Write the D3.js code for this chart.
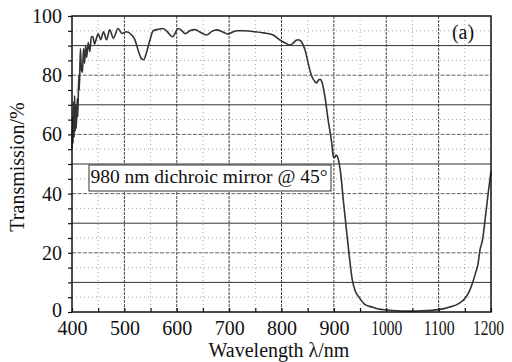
<!DOCTYPE html>
<html>
<head>
<meta charset="utf-8">
<script src="https://cdn.jsdelivr.net/npm/d3@7"></script>
<style>
  body { margin: 0; background: #fff; }
  svg { display: block; }
</style>
</head>
<body>
<svg id="chart" width="512" height="362"></svg>
<script>
// Measured transmission spectrum of the dichroic mirror at 45° incidence
const wavelength = [
  400, 401, 402, 403, 404, 405, 406, 407, 408, 410, 411, 413, 414, 416, 418, 420,
  422, 424, 426, 428, 431, 434, 437, 440, 443, 446, 450, 455, 460, 466, 472, 479,
  488, 495, 504, 514, 520, 527, 533, 537, 542, 549, 555, 565, 574, 583, 592, 603,
  610, 616, 625, 635, 645, 657, 667, 676, 688, 698, 706, 714, 730, 749, 766, 784,
  797, 808, 816, 822, 828, 832, 838, 845, 851, 857, 864, 867, 871, 874, 877, 883,
  889, 896, 899, 902, 904, 906, 908, 913, 918, 924, 930, 935, 941, 948, 959, 974,
  985, 1000, 1020, 1040, 1070, 1100, 1120, 1139, 1152, 1158, 1165, 1171, 1175,
  1179, 1184, 1188, 1194.5, 1200
];
const transmission = [
  55, 66, 57, 71, 59, 73, 61, 70, 62, 72, 66, 80, 75, 89, 82, 81,
  89, 84, 90, 86, 91, 88, 93, 93, 90.5, 92, 94, 92, 94.7, 92, 95.3, 92.5,
  95.8, 94.1, 94.7, 93.6, 92, 88, 85.5, 85.2, 87.5, 92, 95, 95.5, 95.8, 94.5, 93, 95.8,
  95, 94, 95, 95.4, 94.5, 93.6, 94.8, 95.3, 94.6, 93.9, 94.5, 95, 95, 94.7, 94.3, 93.6,
  91.9, 90.8, 90.2, 90.8, 91.8, 92, 91.3, 88.5, 84, 80, 77.8, 77.4, 78.4, 78.6, 77.8, 72.7,
  64.9, 57, 52.5, 52.2, 53, 52.8, 51.9, 46.8, 37.8, 27.7, 18, 11, 7, 5, 2.6, 1.6,
  1.0, 0.7, 0.4, 0.3, 0.4, 0.8, 1.6, 2.9, 5, 6.8, 10, 13.5, 16,
  21, 24.5, 30, 40, 47.5
];

const xTicks = [400, 500, 600, 700, 800, 900, 1000, 1100, 1200];
const yTicks = [0, 20, 40, 60, 80, 100];
const xTitle = "Wavelength λ/nm";
const yTitle = "Transmission/%";
const legendText = "980 nm dichroic mirror @ 45°";
const panelLabel = "(a)";

const FONT = '"Liberation Serif"';

const svg = d3.select("#chart");
const plot = { left: 72, right: 491, top: 16, bottom: 312 };

const x = d3.scaleLinear().domain([400, 1200]).range([plot.left, plot.right]);
const y = d3.scaleLinear().domain([0, 100]).range([plot.bottom, plot.top]);

// Grid: light dotted half-steps, darker lines on the main steps
const grid = svg.append("g");
const xMinor = d3.range(450, 1200, 100);
const xMajor = d3.range(500, 1200, 100);
const yMinor = d3.range(5, 100, 10);
const yMajor = d3.range(10, 100, 10);

grid.selectAll(".xminor").data(xMinor).join("line")
  .attr("x1", d => x(d)).attr("x2", d => x(d))
  .attr("y1", plot.top).attr("y2", plot.bottom)
  .attr("stroke", "#9a9a9a").attr("stroke-width", 0.9).attr("stroke-dasharray", "1,3");
grid.selectAll(".yminor").data(yMinor).join("line")
  .attr("x1", plot.left).attr("x2", plot.right)
  .attr("y1", d => y(d)).attr("y2", d => y(d))
  .attr("stroke", "#9a9a9a").attr("stroke-width", 0.9).attr("stroke-dasharray", "1,3");
grid.selectAll(".xmajor").data(xMajor).join("line")
  .attr("x1", d => x(d)).attr("x2", d => x(d))
  .attr("y1", plot.top).attr("y2", plot.bottom)
  .attr("stroke", "#444").attr("stroke-width", 1).attr("stroke-dasharray", "3,1");
grid.selectAll(".ymajor").data(yMajor).join("line")
  .attr("x1", plot.left).attr("x2", plot.right)
  .attr("y1", d => y(d)).attr("y2", d => y(d))
  .attr("stroke", d => (d / 10) % 2 === 1 ? "#333" : "#666")
  .attr("stroke-width", 1)
  .attr("stroke-dasharray", d => (d / 10) % 2 === 1 ? null : "4,1.5");

// Spectrum curve
const line = d3.line()
  .x((d, i) => x(wavelength[i]))
  .y(d => y(d))
  .curve(d3.curveMonotoneX);

svg.append("path")
  .datum(transmission)
  .attr("d", line)
  .attr("fill", "none")
  .attr("stroke", "#333")
  .attr("stroke-width", 1.6)
  .attr("stroke-linejoin", "round");

// Axes
const xAxis = d3.axisBottom(x)
  .tickValues(d3.range(400, 1201, 50))
  .tickSize(-4)
  .tickPadding(9)
  .tickFormat(d => xTicks.includes(d) ? d : "");
const gx = svg.append("g")
  .attr("transform", `translate(0,${plot.bottom})`)
  .call(xAxis);

const yAxis = d3.axisLeft(y)
  .tickValues(d3.range(0, 101, 5))
  .tickSize(4)
  .tickPadding(6)
  .tickFormat(d => yTicks.includes(d) ? d : "");
const gy = svg.append("g")
  .attr("transform", `translate(${plot.left},0)`)
  .call(yAxis);

[gx, gy].forEach(g => {
  g.attr("font-family", null).attr("font-size", null);
  g.select(".domain").remove();
  g.selectAll(".tick line").attr("stroke", "#111").attr("stroke-width", 1.2);
  g.selectAll(".tick text")
    .attr("fill", "#111")
    .style("font-family", FONT)
    .style("font-size", "20px");
});

// narrow four-digit labels so they sit within their spacing
gx.selectAll(".tick text")
  .filter(d => d >= 1000)
  .attr("textLength", 31)
  .attr("lengthAdjust", "spacingAndGlyphs");
gx.selectAll(".tick text")
  .filter(d => d === 1200)
  .attr("dx", -3);
gy.selectAll(".tick text")
  .filter(d => d === 0)
  .attr("dy", "0.2em");

// Frame
svg.append("rect")
  .attr("x", plot.left).attr("y", plot.top)
  .attr("width", plot.right - plot.left).attr("height", plot.bottom - plot.top)
  .attr("fill", "none").attr("stroke", "#111").attr("stroke-width", 1.5);

function label(sel) {
  return sel.attr("fill", "#111").style("font-family", FONT).style("font-size", "20px");
}

// Titles
label(svg.append("text"))
  .attr("x", 279).attr("y", 357)
  .attr("text-anchor", "middle")
  .text(xTitle);

label(svg.append("text"))
  .attr("transform", "translate(24,167) rotate(-90)")
  .attr("text-anchor", "middle")
  .text(yTitle);

// Annotation box
const note = svg.append("g");
note.append("rect")
  .attr("x", 89).attr("y", 165)
  .attr("width", 242).attr("height", 26)
  .attr("fill", "#fff").attr("stroke", "#333").attr("stroke-width", 1);
label(note.append("text"))
  .attr("x", 90.5).attr("y", 183)
  .style("font-size", "19.5px")
  .attr("textLength", 237)
  .attr("lengthAdjust", "spacing")
  .text(legendText);

// Panel label
label(svg.append("text"))
  .attr("x", 463).attr("y", 38.5)
  .attr("text-anchor", "middle")
  .text(panelLabel);
</script>
</body>
</html>
